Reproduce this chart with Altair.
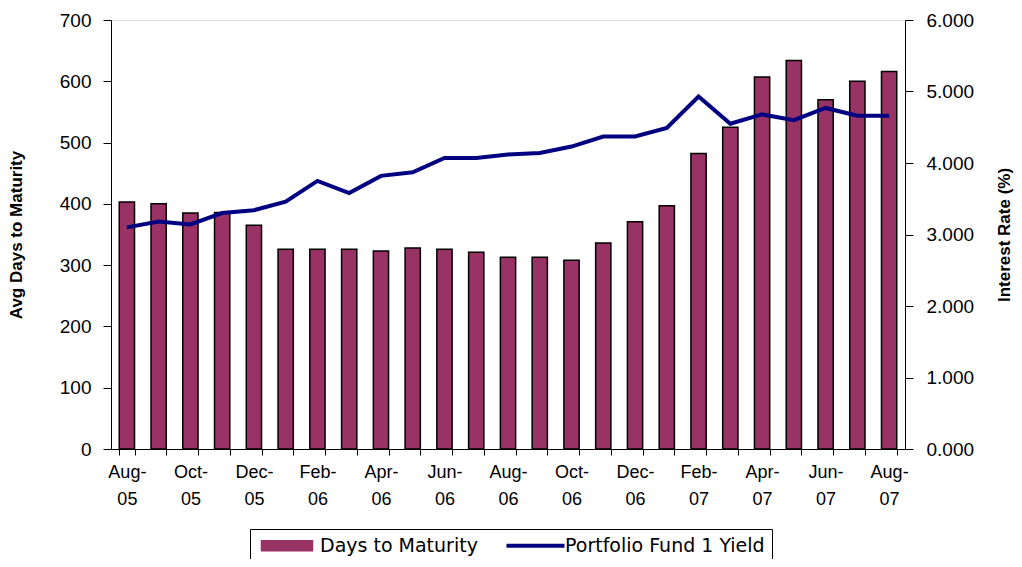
import altair as alt
import pandas as pd

months = ["Aug-05", "Sep-05", "Oct-05", "Nov-05", "Dec-05", "Jan-06", "Feb-06", "Mar-06",
          "Apr-06", "May-06", "Jun-06", "Jul-06", "Aug-06", "Sep-06", "Oct-06", "Nov-06",
          "Dec-06", "Jan-07", "Feb-07", "Mar-07", "Apr-07", "May-07", "Jun-07", "Jul-07", "Aug-07"]
days_to_maturity = [403, 400, 385, 386, 365, 326, 326, 326, 323, 328, 326, 321, 313,
                    313, 308, 336, 371, 397, 482, 525, 607, 634, 570, 600, 616]
fund_yield = [3.10, 3.18, 3.14, 3.30, 3.34, 3.46, 3.75, 3.58, 3.82, 3.87, 4.07, 4.07, 4.12,
              4.14, 4.23, 4.37, 4.37, 4.49, 4.93, 4.55, 4.68, 4.60, 4.77, 4.66, 4.66]
shown_labels = months[::2]
left_ticks = [0, 100, 200, 300, 400, 500, 600, 700]
right_ticks = [0, 1, 2, 3, 4, 5, 6]
series_names = ["Days to Maturity", "Portfolio Fund 1 Yield"]

FONT = "DejaVu Sans"
MAROON = "#993366"
NAVY = "#000080"

df = pd.DataFrame({
    "month": months,
    "days": days_to_maturity,
    "yield": fund_yield,
    "s_bar": series_names[0],
    "s_line": series_names[1],
})

shown_js = "[" + ",".join("'" + m + "'" for m in shown_labels) + "]"
label_expr = f"indexof({shown_js}, datum.value) >= 0 ? [slice(datum.value, 0, 4), slice(datum.value, 4)] : ''"

x_enc = alt.X(
    "month:N", sort=months, title=None,
    scale=alt.Scale(paddingInner=0.52, paddingOuter=0.26),
    axis=alt.Axis(labelExpr=label_expr, labelAngle=0, labelOverlap=False, tickBand="extent",
                  tickSize=6, labelPadding=8, labelLineHeight=27, labelBaseline="top",
                  labelFontSize=18, domainColor="black", tickColor="black",
                  labelColor="black", grid=False),
)

color_scale = alt.Scale(domain=series_names, range=[MAROON, NAVY])
is_bar = f"datum.value === '{series_names[0]}'"
legend = alt.Legend(
    title=None, orient="none", legendX=139, legendY=509, direction="horizontal",
    symbolSize=100, labelFont=FONT, labelFontSize=19, labelLimit=400,
    labelColor="black", strokeColor="black", fillColor="white", padding=7,
    columnPadding=20, labelOffset=44, symbolOpacity=1,
    symbolType={"expr": f"{is_bar} ? 'M-1,-1H9.2V1H-1Z' : 'M-1,0H10.6'"},
    symbolFillColor={"expr": f"{is_bar} ? '{MAROON}' : 'transparent'"},
    symbolStrokeColor={"expr": f"{is_bar} ? 'black' : '{NAVY}'"},
    symbolStrokeWidth={"expr": f"{is_bar} ? 1.5 : 4"},
)

bars = alt.Chart(df).mark_bar(stroke="black", strokeWidth=1.5).encode(
    x=x_enc,
    y=alt.Y("days:Q", title="Avg Days to Maturity",
            scale=alt.Scale(domain=[0, 700], nice=False),
            axis=alt.Axis(values=left_ticks, tickSize=8, labelPadding=12, grid=False,
                          titleFontWeight="bold", titleFontSize=17, labelFontSize=19,
                          domainColor="black", tickColor="black", labelColor="black",
                          titleColor="black", titlePadding=34)),
    color=alt.Color("s_bar:N", scale=color_scale, legend=legend),
)

line = alt.Chart(df).mark_line(strokeWidth=4).encode(
    x=x_enc,
    y=alt.Y("yield:Q", title="Interest Rate (%)",
            scale=alt.Scale(domain=[0, 6], nice=False),
            axis=alt.Axis(orient="right", values=right_ticks, format=".3f", tickSize=8,
                          labelPadding=13, grid=False, titleFontWeight="bold",
                          titleFontSize=17, labelFontSize=19, titleAngle=270,
                          domainColor="black", tickColor="black", labelColor="black",
                          titleColor="black", titlePadding=40)),
    color=alt.Color("s_line:N", scale=color_scale, legend=legend),
)

chart = alt.layer(bars, line).resolve_scale(y="independent").properties(
    width=794, height=429,
    autosize=alt.AutoSizeParams(type="none"),
    padding={"left": 103, "top": 12, "right": 109, "bottom": 110},
).configure_view(stroke="#808080", strokeWidth=1).configure_axis(
    labelFont=FONT, titleFont=FONT
).configure(background="white")

chart.save("out.html", embed_options={"renderer": "svg", "actions": False})
